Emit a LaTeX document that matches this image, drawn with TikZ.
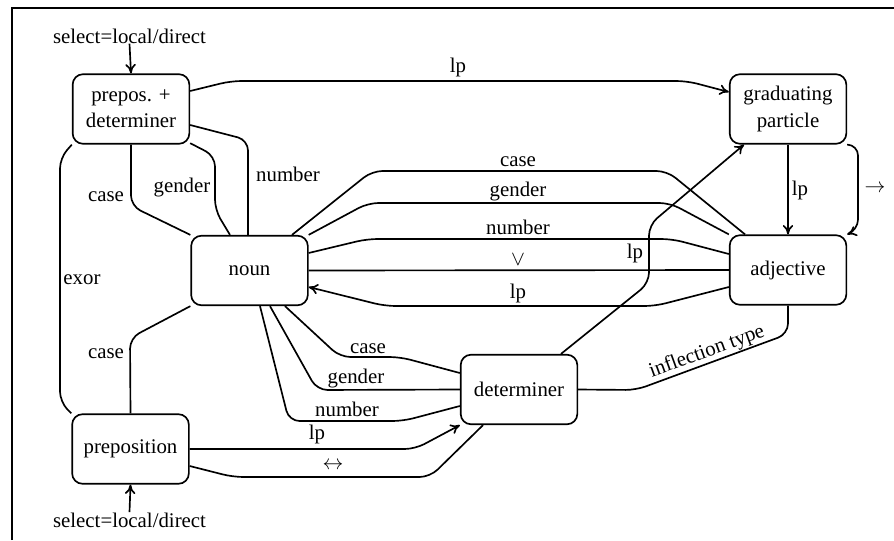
\documentclass[tikz,border=0pt]{standalone}
\usepackage{fontspec}
\setmainfont{Liberation Serif}
\usetikzlibrary{arrows.meta}
\begin{document}
\begin{tikzpicture}[x=0.48pt,y=-0.48pt,
  box/.style={draw,rounded corners=5pt,minimum width=56pt,minimum height=33.4pt,inner sep=0pt,align=center,line width=0.8pt,font=\fontsize{10}{12.5}\selectfont},
  edge/.style={draw,line width=0.8pt,rounded corners=5pt},
  arr/.style={edge,-{To[length=4.5pt,width=5pt]}},
  lab/.style={inner sep=0pt,anchor=base,font=\fontsize{10}{12}\selectfont},
  clab/.style={inner sep=0pt,anchor=center,font=\fontsize{10}{12}\selectfont}]
\useasboundingbox (0,0) rectangle (894,540);
\draw[line width=0.9pt] (12,540) -- (12,8) -- (894,8);

% nodes
\node[box] (pd)   at (131,109)   {prepos. +\\determiner};
\node[box] (grad) at (788,109)   {graduating\\particle};
\node[box] (noun) at (249.5,270.5) {noun};
\node[box] (adj)  at (788,270)   {adjective};
\node[box] (det)  at (519,389.5) {determiner};
\node[box] (prep) at (130.5,449) {preposition};

\node[lab] (sel1) at (129.5,43) {select=local/direct};
\node[lab] (sel2) at (129.5,527) {select=local/direct};
\draw[arr] (sel1.south) -- (pd.north);
\draw[arr] (sel2.north) -- (prep.south);

% prepos+det connectors
\draw[arr] (pd.east |- 0,91) -- (231,81) -- (687,81) -- (grad.west |- 0,92);
\node[lab] (l1) at (458,72) {lp};
\draw[edge] (pd.east |- 0,125) -- (248,140) -- (noun.north -| 248,0);
\node[lab] (l2) at (288,181) {number};
\draw[edge] (pd.-30) -- (215,156) -- (215,210) -- (noun.north -| 230,0);
\node[lab] (l3) at (182,192) {gender};
\draw[edge] (pd.south) -- (131,206) -- (noun.north west);
\node[lab] (l4) at (106,201) {case};
\draw[edge] (pd.south west) -- (60,158) -- (60,402) -- (prep.north west);
\node[lab] (l5) at (82,284) {exor};
\draw[edge] (prep.north) -- (130,338) -- (noun.south west);
\node[lab] (l6) at (106,358) {case};

% noun -- adjective
\draw[edge] (noun.north -| 292,0) -- (372,171) -- (667,171) -- (adj.north -| 745,0);
\node[lab] (l7) at (518,166) {case};
\draw[edge] (noun.north east) -- (368,203) -- (670,203) -- (adj.north west);
\node[lab] (l8) at (518,196) {gender};
\draw[edge] (noun.east |- 0,253) -- (367,239) -- (672,239) -- (adj.west |- 0,254);
\node[lab] (l9) at (518,234) {number};
\draw[edge] (noun.east) -- (adj.west);
\node[clab] (l10) at (518,260) {$\vee$};
\draw[arr] (adj.west |- 0,287) -- (655,306) -- (385,306) -- (noun.east |- 0,287);
\node[lab] (l11) at (518,298) {lp};

% determiner -- graduating particle
\draw[arr] (det.north -| 561,0) -- (649,283) -- (649,225) -- (grad.south -| 744,0);
\node[lab] (l12) at (635,258) {lp};
% graduating particle -- adjective
\draw[arr] (grad.south) -- (adj.north);
\node[lab] (l13) at (800,195) {lp};
\draw[arr] (grad.south east) -- (858,145) -- (858,230) -- (adj.north east);
\node[clab] (l14) at (875,189) {$\rightarrow$};

% noun -- determiner
\draw[edge] (noun.south -| 285,0) -- (340,357) -- (400,357) -- (det.west |- 0,373);
\node[lab] (l15) at (368,353) {case};
\draw[edge] (noun.south -| 270,0) -- (317,390) -- (det.west);
\node[lab] (l16) at (356,383) {gender};
\draw[edge] (noun.south -| 260,0) -- (289,421) -- (403,421) -- (det.west |- 0,406);
\node[lab] (l17) at (347,416) {number};

% preposition -- determiner
\draw[arr] (prep.east) -- (415,449) -- (det.south west);
\node[lab] (l18) at (317,439) {lp};
\draw[edge] (prep.east |- 0,466) -- (233,477) -- (430,477) -- (det.south -| 483,0);
\node[clab] (l19) at (333,466) {$\leftrightarrow$};

% determiner -- adjective
\draw[edge] (det.east) -- (636,390) -- (788,334) -- (adj.south);
\node[clab,rotate=20] (l20) at (707,352) {inflection type};
\end{tikzpicture}
\end{document}
